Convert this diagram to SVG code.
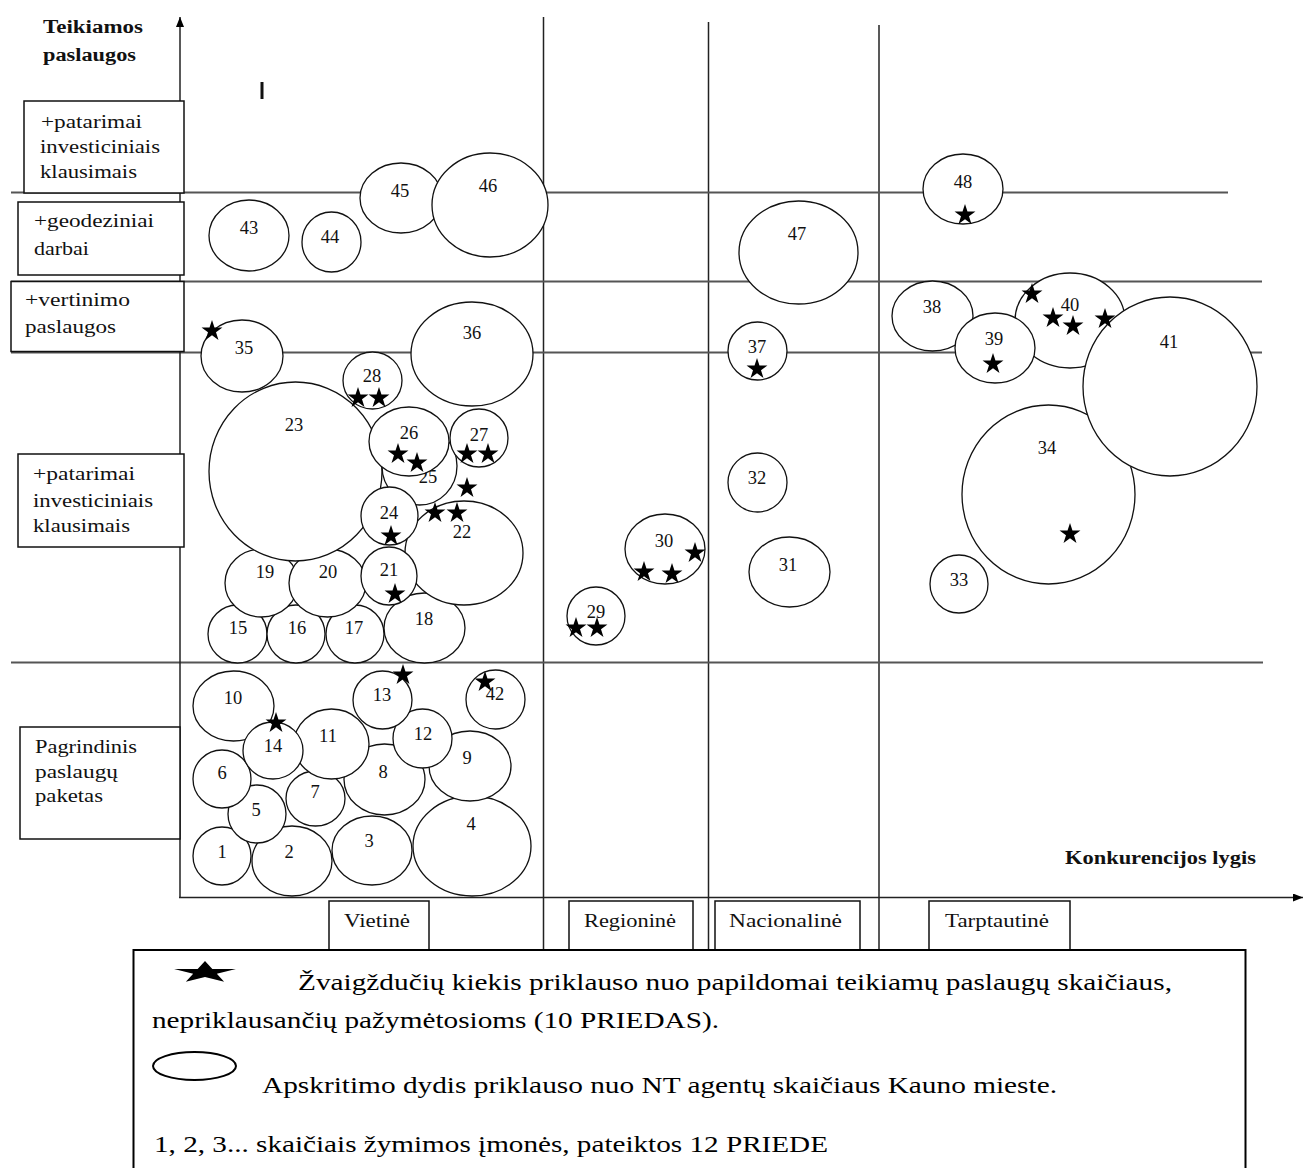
<svg xmlns="http://www.w3.org/2000/svg" xmlns:xlink="http://www.w3.org/1999/xlink" width="1303" height="1168" viewBox="0 0 1303 1168">
<style>
  .ln { stroke:#222; stroke-width:1.5; fill:none; }
  .hl { stroke:#555; stroke-width:2; fill:none; }
  .box { fill:#fff; stroke:#111; stroke-width:1.5; }
  .c { fill:#fff; stroke:#111; stroke-width:1.3; }
  .t { font-family:"Liberation Serif","Times New Roman",serif; font-size:19px; fill:#111; }
  .n { font-family:"Liberation Serif","Times New Roman",serif; font-size:18.5px; fill:#111; text-anchor:middle; }
  .b { font-family:"Liberation Serif","Times New Roman",serif; font-size:18px; font-weight:bold; fill:#111; }
  .lg { font-family:"Liberation Serif","Times New Roman",serif; font-size:23px; fill:#000; }
  .s { fill:#000; }
</style>
<defs>
  <path id="star" d="M0,-11 L2.48,-3.4 L10.46,-3.4 L4,1.3 L6.47,8.9 L0,4.2 L-6.47,8.9 L-4,1.3 L-10.46,-3.4 L-2.48,-3.4 Z"/>
  <marker id="arr" viewBox="0 0 10 8" refX="10" refY="4" markerWidth="10" markerHeight="8" markerUnits="userSpaceOnUse" orient="auto">
    <path d="M0,0 L10,4 L0,8 Z" fill="#000"/>
  </marker>
</defs>
<rect width="1303" height="1168" fill="#fff"/>

<g id="connectors">
  <line class="ln" x1="543.5" y1="17" x2="543.5" y2="950"/>
  <line class="ln" x1="708.5" y1="22" x2="708.5" y2="950"/>
  <line class="ln" x1="879" y1="25" x2="879" y2="950"/>
  <line class="hl" x1="11" y1="192.5" x2="1228" y2="192.5"/>
  <line class="hl" x1="11" y1="281.5" x2="1262" y2="281.5"/>
  <line class="hl" x1="11" y1="352.5" x2="1262" y2="352.5"/>
  <line class="hl" x1="11" y1="662.5" x2="1263" y2="662.5"/>
  <line class="ln" x1="180" y1="898" x2="180" y2="17" marker-end="url(#arr)"/>
  <line class="ln" x1="179" y1="897.5" x2="1303" y2="897.5" marker-end="url(#arr)"/>
</g>

<g id="axis-titles">
  <text class="b" x="43" y="33" textLength="100" lengthAdjust="spacingAndGlyphs">Teikiamos</text>
  <text class="b" x="43" y="61" textLength="93" lengthAdjust="spacingAndGlyphs">paslaugos</text>
  <rect x="260.5" y="82" width="3" height="17" fill="#111"/>
  <text class="b" x="1065" y="864" textLength="191" lengthAdjust="spacingAndGlyphs">Konkurencijos lygis</text>
</g>

<g id="row-labels">
  <g id="lbl-invest-top">
    <rect class="box" x="24" y="101" width="160" height="92"/>
    <text class="t" x="41" y="128" textLength="101" lengthAdjust="spacingAndGlyphs">+patarimai</text>
    <text class="t" x="40" y="153" textLength="120" lengthAdjust="spacingAndGlyphs">investiciniais</text>
    <text class="t" x="40" y="178" textLength="97" lengthAdjust="spacingAndGlyphs">klausimais</text>
  </g>
  <g id="lbl-geo">
    <rect class="box" x="18" y="202" width="166" height="73"/>
    <text class="t" x="34" y="227" textLength="120" lengthAdjust="spacingAndGlyphs">+geodeziniai</text>
    <text class="t" x="34" y="255" textLength="55" lengthAdjust="spacingAndGlyphs">darbai</text>
  </g>
  <g id="lbl-vert">
    <rect class="box" x="11" y="281.5" width="173" height="70"/>
    <text class="t" x="25" y="306" textLength="105" lengthAdjust="spacingAndGlyphs">+vertinimo</text>
    <text class="t" x="25" y="333" textLength="91" lengthAdjust="spacingAndGlyphs">paslaugos</text>
  </g>
  <g id="lbl-invest">
    <rect class="box" x="18" y="454" width="166" height="93"/>
    <text class="t" x="33" y="480" textLength="102" lengthAdjust="spacingAndGlyphs">+patarimai</text>
    <text class="t" x="33" y="507" textLength="120" lengthAdjust="spacingAndGlyphs">investiciniais</text>
    <text class="t" x="33" y="532" textLength="97" lengthAdjust="spacingAndGlyphs">klausimais</text>
  </g>
  <g id="lbl-base">
    <rect class="box" x="20" y="727" width="160" height="112"/>
    <text class="t" x="35" y="753" textLength="102" lengthAdjust="spacingAndGlyphs">Pagrindinis</text>
    <text class="t" x="35" y="778" textLength="83" lengthAdjust="spacingAndGlyphs">paslaugų</text>
    <text class="t" x="35" y="802" textLength="68" lengthAdjust="spacingAndGlyphs">paketas</text>
  </g>
</g>

<g id="col-labels">
  <g id="col-vietine"><rect class="box" x="329" y="901" width="100" height="60"/><text class="t" x="344" y="927" textLength="66" lengthAdjust="spacingAndGlyphs">Vietinė</text></g>
  <g id="col-regionine"><rect class="box" x="569" y="901" width="124" height="60"/><text class="t" x="584" y="927" textLength="92" lengthAdjust="spacingAndGlyphs">Regioninė</text></g>
  <g id="col-nacionaline"><rect class="box" x="715" y="901" width="145" height="60"/><text class="t" x="729" y="927" textLength="113" lengthAdjust="spacingAndGlyphs">Nacionalinė</text></g>
  <g id="col-tarptautine"><rect class="box" x="929" y="901" width="141" height="60"/><text class="t" x="945" y="927" textLength="104" lengthAdjust="spacingAndGlyphs">Tarptautinė</text></g>
</g>

<g id="companies">
  <g id="n1"><ellipse class="c" cx="222" cy="856" rx="29" ry="29"/><text class="n" x="222" y="858">1</text></g>
  <g id="n2"><ellipse class="c" cx="292" cy="861" rx="40" ry="35"/><text class="n" x="289" y="858">2</text></g>
  <g id="n3"><ellipse class="c" cx="372" cy="850.5" rx="40" ry="34.5"/><text class="n" x="369" y="847">3</text></g>
  <g id="n4"><ellipse class="c" cx="472" cy="846" rx="59" ry="50"/><text class="n" x="471" y="830">4</text></g>
  <g id="n5"><ellipse class="c" cx="257" cy="814" rx="29" ry="29"/><text class="n" x="256" y="816">5</text></g>
  <g id="n6"><ellipse class="c" cx="222" cy="779" rx="29" ry="29"/><text class="n" x="222" y="779">6</text></g>
  <g id="n7"><ellipse class="c" cx="315.5" cy="798.5" rx="29.5" ry="27.5"/><text class="n" x="315" y="798">7</text></g>
  <g id="n8"><ellipse class="c" cx="384.5" cy="779.5" rx="40.5" ry="35.5"/><text class="n" x="383" y="778">8</text></g>
  <g id="n9"><ellipse class="c" cx="470" cy="766" rx="41" ry="35"/><text class="n" x="467" y="764">9</text></g>
  <g id="n10"><ellipse class="c" cx="233.5" cy="706" rx="40.5" ry="35"/><text class="n" x="233" y="704">10</text></g>
  <g id="n11"><ellipse class="c" cx="331.5" cy="744" rx="37.5" ry="35"/><text class="n" x="328" y="742">11</text></g>
  <g id="n12"><ellipse class="c" cx="422.5" cy="738.5" rx="29.5" ry="29.5"/><text class="n" x="423" y="740">12</text></g>
  <g id="n13"><ellipse class="c" cx="382.5" cy="700" rx="29.5" ry="29"/><text class="n" x="382" y="701">13</text></g>
  <g id="n14"><ellipse class="c" cx="273" cy="750.5" rx="30" ry="28.5"/><text class="n" x="273" y="752">14</text></g>
  <g id="n42"><ellipse class="c" cx="495.5" cy="699.5" rx="29.5" ry="29.5"/><text class="n" x="495" y="700">42</text></g>

  <g id="n15"><ellipse class="c" cx="237.5" cy="634" rx="29.5" ry="29"/><text class="n" x="238" y="634">15</text></g>
  <g id="n16"><ellipse class="c" cx="296" cy="634" rx="29" ry="29"/><text class="n" x="297" y="634">16</text></g>
  <g id="n17"><ellipse class="c" cx="355" cy="634" rx="29" ry="29"/><text class="n" x="354" y="634">17</text></g>
  <g id="n18"><ellipse class="c" cx="424.5" cy="628" rx="40.5" ry="35"/><text class="n" x="424" y="625">18</text></g>
  <g id="n19"><ellipse class="c" cx="261.5" cy="583" rx="36.5" ry="34"/><text class="n" x="265" y="578">19</text></g>
  <g id="n20"><ellipse class="c" cx="327.5" cy="583" rx="38.5" ry="34"/><text class="n" x="328" y="578">20</text></g>
  <g id="n23"><ellipse class="c" cx="295.5" cy="471.5" rx="86.5" ry="89.5"/><text class="n" x="294" y="431">23</text></g>
  <g id="n25"><ellipse class="c" cx="419.5" cy="466" rx="37.5" ry="39"/><text class="n" x="428" y="483">25</text></g>
  <g id="n22"><ellipse class="c" cx="464" cy="553" rx="59" ry="52"/><text class="n" x="462" y="538">22</text></g>
  <g id="n24"><ellipse class="c" cx="389.5" cy="516" rx="28.5" ry="29"/><text class="n" x="389" y="519">24</text></g>
  <g id="n21"><ellipse class="c" cx="389" cy="576" rx="28" ry="29"/><text class="n" x="389" y="576">21</text></g>
  <g id="n26"><ellipse class="c" cx="409" cy="441.5" rx="40" ry="34.5"/><text class="n" x="409" y="439">26</text></g>
  <g id="n27"><ellipse class="c" cx="479" cy="438" rx="29" ry="29"/><text class="n" x="479" y="441">27</text></g>
  <g id="n28"><ellipse class="c" cx="372.5" cy="380.5" rx="29.5" ry="28.5"/><text class="n" x="372" y="382">28</text></g>
  <g id="n35"><ellipse class="c" cx="242" cy="356" rx="41" ry="36"/><text class="n" x="244" y="354">35</text></g>
  <g id="n36"><ellipse class="c" cx="472" cy="354" rx="61" ry="52"/><text class="n" x="472" y="339">36</text></g>

  <g id="n43"><ellipse class="c" cx="249" cy="235.5" rx="40" ry="35.5"/><text class="n" x="249" y="234">43</text></g>
  <g id="n44"><ellipse class="c" cx="331.5" cy="242" rx="29.5" ry="30"/><text class="n" x="330" y="243">44</text></g>
  <g id="n45"><ellipse class="c" cx="401" cy="198" rx="41" ry="35"/><text class="n" x="400" y="197">45</text></g>
  <g id="n46"><ellipse class="c" cx="490" cy="205" rx="58" ry="52"/><text class="n" x="488" y="192">46</text></g>

  <g id="n29"><ellipse class="c" cx="596" cy="616" rx="29" ry="29"/><text class="n" x="596" y="618">29</text></g>
  <g id="n30"><ellipse class="c" cx="665" cy="549" rx="40" ry="35"/><text class="n" x="664" y="547">30</text></g>

  <g id="n47"><ellipse class="c" cx="798.5" cy="252.5" rx="59.5" ry="51.5"/><text class="n" x="797" y="240">47</text></g>
  <g id="n37"><ellipse class="c" cx="757.5" cy="351" rx="29.5" ry="29"/><text class="n" x="757" y="353">37</text></g>
  <g id="n32"><ellipse class="c" cx="757.5" cy="482.5" rx="29.5" ry="29.5"/><text class="n" x="757" y="484">32</text></g>
  <g id="n31"><ellipse class="c" cx="789.5" cy="572" rx="40.5" ry="35"/><text class="n" x="788" y="571">31</text></g>

  <g id="n48"><ellipse class="c" cx="963" cy="189" rx="40" ry="35"/><text class="n" x="963" y="188">48</text></g>
  <g id="n38"><ellipse class="c" cx="932.5" cy="316" rx="40.5" ry="35"/><text class="n" x="932" y="313">38</text></g>
  <g id="n40"><ellipse class="c" cx="1070" cy="320.5" rx="55" ry="47.5"/><text class="n" x="1070" y="311">40</text></g>
  <g id="n39"><ellipse class="c" cx="995" cy="348" rx="40" ry="35"/><text class="n" x="994" y="345">39</text></g>
  <g id="n34"><ellipse class="c" cx="1048.5" cy="494.5" rx="86.5" ry="89.5"/><text class="n" x="1047" y="454">34</text></g>
  <g id="n41"><ellipse class="c" cx="1170" cy="386.5" rx="87" ry="89.5"/><text class="n" x="1169" y="348">41</text></g>
  <g id="n33"><ellipse class="c" cx="959" cy="584" rx="29" ry="29"/><text class="n" x="959" y="586">33</text></g>
</g>

<g id="stars" class="s">
  <use href="#star" x="212" y="331"/>
  <use href="#star" x="358" y="398"/>
  <use href="#star" x="379" y="398"/>
  <use href="#star" x="398" y="454"/>
  <use href="#star" x="417" y="463"/>
  <use href="#star" x="467" y="454"/>
  <use href="#star" x="488" y="454"/>
  <use href="#star" x="467" y="488"/>
  <use href="#star" x="435" y="513"/>
  <use href="#star" x="457" y="513"/>
  <use href="#star" x="391" y="536"/>
  <use href="#star" x="395" y="594"/>
  <use href="#star" x="403" y="675"/>
  <use href="#star" x="485" y="682"/>
  <use href="#star" x="276" y="723"/>
  <use href="#star" x="757" y="369"/>
  <use href="#star" x="644" y="572"/>
  <use href="#star" x="672" y="574"/>
  <use href="#star" x="695" y="553"/>
  <use href="#star" x="576" y="628"/>
  <use href="#star" x="597" y="628"/>
  <use href="#star" x="965" y="215"/>
  <use href="#star" x="993" y="364"/>
  <use href="#star" x="1032" y="294"/>
  <use href="#star" x="1053" y="318"/>
  <use href="#star" x="1073" y="326"/>
  <use href="#star" x="1105" y="319"/>
  <use href="#star" x="1070" y="534"/>
</g>

<g id="legend">
  <rect x="133.5" y="950" width="1112" height="230" fill="#fff" stroke="#000" stroke-width="2"/>
  <use href="#star" transform="translate(205,972.5) scale(2.96,1.05)"/>
  <text class="lg" x="298" y="990" textLength="874" lengthAdjust="spacingAndGlyphs">Žvaigždučių kiekis priklauso nuo papildomai teikiamų paslaugų skaičiaus,</text>
  <text class="lg" x="152" y="1028" textLength="567" lengthAdjust="spacingAndGlyphs">nepriklausančių pažymėtosioms (10 PRIEDAS).</text>
  <ellipse cx="194.5" cy="1066" rx="41.5" ry="14" fill="#fff" stroke="#000" stroke-width="2"/>
  <text class="lg" x="262" y="1093" textLength="795" lengthAdjust="spacingAndGlyphs">Apskritimo dydis priklauso nuo NT agentų skaičiaus Kauno mieste.</text>
  <text class="lg" x="154" y="1152" textLength="674" lengthAdjust="spacingAndGlyphs">1, 2, 3... skaičiais žymimos įmonės, pateiktos 12 PRIEDE</text>
</g>
</svg>
